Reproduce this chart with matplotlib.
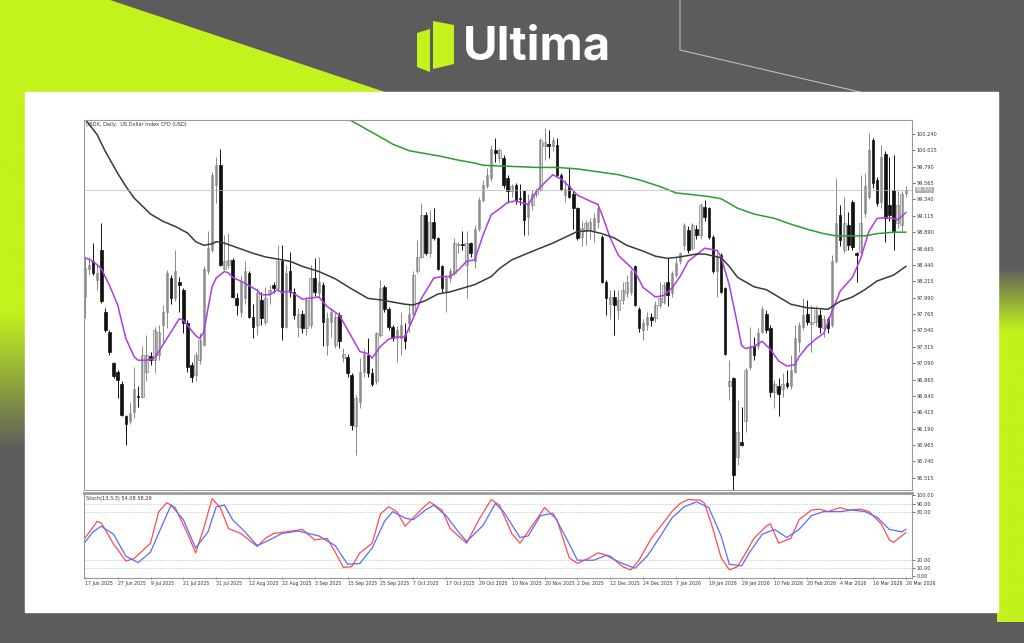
import numpy as np
import matplotlib.pyplot as plt
from matplotlib.patches import Rectangle, Polygon
from matplotlib.colors import LinearSegmentedColormap
import matplotlib.transforms as mtransforms

plt.rcParams['font.family'] = ['DejaVu Sans']

W, H = 1024, 643

# ---------------- data ----------------
dates = ["17 Jun 2025", "27 Jun 2025", "9 Jul 2025", "21 Jul 2025", "31 Jul 2025",
         "12 Aug 2025", "22 Aug 2025", "3 Sep 2025", "15 Sep 2025", "25 Sep 2025",
         "7 Oct 2025", "17 Oct 2025", "29 Oct 2025", "10 Nov 2025", "20 Nov 2025",
         "2 Dec 2025", "12 Dec 2025", "24 Dec 2025", "7 Jan 2026", "19 Jan 2026",
         "29 Jan 2026", "10 Feb 2026", "20 Feb 2026", "4 Mar 2026", "16 Mar 2026",
         "26 Mar 2026"]

opens = [98.00, 98.38, 98.49, 98.23, 98.65, 97.80, 97.52, 97.09, 96.97, 96.81,
         96.36, 96.29, 96.42, 96.64, 96.63, 96.97, 97.19, 97.13, 97.20, 97.61,
         97.80, 98.26, 97.98, 98.20, 98.10, 97.64, 97.06, 96.93, 97.13, 97.34,
         98.35, 98.65, 99.54, 99.81, 98.39, 98.44, 98.51, 97.98, 97.80, 97.98,
         98.33, 97.73, 97.62, 97.96, 97.66, 98.05, 98.17, 98.12, 98.49, 97.59,
         98.35, 98.07, 97.59, 97.77, 97.57, 97.62, 98.26, 98.05, 98.16, 97.34,
         97.66, 97.34, 97.75, 97.16, 97.18, 96.93, 96.22, 96.56, 96.97, 97.20,
         96.95, 96.84, 97.48, 98.14, 97.84, 97.59, 97.43, 97.43, 97.48, 97.64,
         97.77, 98.35, 98.55, 99.13, 98.60, 99.03, 98.81, 98.42, 98.07, 98.26,
         98.33, 98.71, 98.72, 98.44, 98.74, 98.49, 98.94, 99.33, 99.52, 99.63,
         100.02, 99.91, 99.91, 99.63, 99.45, 99.54, 99.36, 99.45, 99.10, 99.26,
         99.42, 99.47, 100.07, 100.10, 100.07, 100.09, 99.68, 99.40, 99.52, 99.42,
         99.22, 98.83, 98.90, 98.92, 98.92, 99.03, 98.83, 98.21, 97.90, 98.00,
         97.82, 97.96, 98.05, 98.07, 98.42, 97.84, 97.55, 97.62, 97.73, 97.71,
         97.89, 97.93, 98.21, 98.05, 98.30, 98.49, 98.71, 98.92, 98.67, 98.94,
         98.85, 99.24, 99.22, 98.83, 98.35, 98.58, 98.12, 96.77, 96.88, 95.80,
         96.01, 96.29, 97.04, 97.32, 97.32, 97.52, 97.77, 97.57, 96.70, 96.77,
         96.74, 96.82, 96.77, 96.97, 97.38, 97.59, 97.77, 97.63, 97.66, 97.75,
         97.57, 97.70, 97.61, 98.49, 99.13, 98.65, 98.99, 99.31, 98.60, 98.62,
         99.15, 99.38, 100.16, 99.61, 99.31, 99.97, 99.26, 99.47, 99.01, 98.99,
         99.43]
highs = [98.55, 98.55, 98.74, 98.44, 99.01, 97.85, 97.55, 97.11, 97.00, 96.84,
         96.38, 96.56, 97.04, 96.77, 97.32, 97.48, 97.25, 97.59, 97.61, 97.89,
         98.37, 98.30, 98.64, 98.28, 98.12, 97.68, 97.10, 97.25, 97.50, 98.42,
         98.90, 99.72, 99.93, 100.04, 98.85, 98.88, 98.53, 98.05, 98.30, 98.49,
         98.35, 97.91, 98.12, 98.07, 98.14, 98.17, 98.21, 98.71, 98.71, 98.44,
         98.62, 98.12, 97.85, 97.82, 98.00, 98.44, 98.53, 98.55, 98.20, 97.80,
         97.85, 97.78, 97.80, 97.30, 97.22, 96.95, 96.65, 97.16, 97.29, 97.43,
         97.02, 97.52, 98.23, 98.16, 97.86, 97.61, 97.60, 97.80, 97.64, 97.91,
         98.35, 98.78, 99.29, 99.17, 99.20, 99.22, 98.83, 98.44, 98.30, 98.40,
         98.81, 98.76, 98.90, 98.90, 98.76, 98.99, 99.38, 99.61, 99.77, 100.09,
         100.18, 100.05, 99.95, 99.68, 99.55, 99.56, 99.55, 99.47, 99.42, 99.47,
         99.50, 100.18, 100.32, 100.29, 100.20, 100.18, 99.70, 99.61, 99.77, 99.45,
         99.24, 99.05, 99.06, 99.08, 99.15, 99.29, 98.85, 98.23, 98.10, 98.09,
         98.10, 98.21, 98.30, 98.39, 98.44, 97.86, 97.70, 97.80, 97.78, 97.94,
         98.21, 98.21, 98.53, 98.35, 98.53, 98.62, 99.01, 98.97, 99.01, 98.99,
         99.29, 99.33, 99.24, 98.85, 98.60, 98.60, 98.14, 97.13, 96.90, 96.58,
         96.49, 97.02, 97.59, 97.45, 97.57, 97.87, 97.82, 97.61, 96.86, 96.88,
         96.95, 97.00, 97.20, 97.61, 97.66, 97.98, 97.96, 97.89, 97.87, 97.84,
         97.75, 97.73, 98.58, 99.63, 99.26, 99.38, 99.17, 99.33, 98.62, 99.68,
         99.70, 100.25, 100.18, 99.65, 100.09, 100.00, 99.93, 99.95, 99.45, 99.45,
         99.52]
lows = [97.71, 98.30, 98.30, 98.10, 97.92, 97.52, 97.20, 96.88, 96.61, 96.36,
        95.97, 96.26, 96.33, 96.49, 96.61, 96.84, 97.07, 96.95, 97.13, 97.36,
        97.57, 97.90, 97.94, 97.80, 97.50, 96.97, 96.83, 96.84, 97.08, 97.32,
        98.32, 98.62, 99.29, 98.42, 98.37, 98.40, 97.98, 97.75, 97.73, 97.90,
        97.71, 97.43, 97.48, 97.62, 97.62, 97.91, 98.05, 98.08, 97.41, 97.57,
        98.00, 97.70, 97.45, 97.50, 97.48, 97.57, 98.02, 98.00, 97.32, 97.20,
        97.45, 97.30, 97.30, 97.10, 96.90, 96.17, 95.83, 96.47, 96.90, 96.90,
        96.78, 96.81, 97.45, 97.80, 97.55, 97.40, 97.11, 97.20, 97.29, 97.52,
        97.75, 98.33, 98.53, 98.58, 98.55, 98.78, 98.37, 98.07, 97.80, 98.20,
        98.30, 98.60, 98.65, 97.98, 98.55, 98.40, 98.90, 99.30, 99.50, 99.60,
        99.85, 99.85, 99.50, 99.29, 99.38, 99.28, 99.27, 98.85, 98.85, 99.20,
        99.38, 99.45, 99.88, 99.91, 100.00, 99.65, 99.47, 99.31, 99.36, 98.94,
        98.78, 98.70, 98.72, 98.80, 98.76, 98.95, 98.19, 97.75, 97.70, 97.48,
        97.70, 97.90, 98.00, 98.03, 97.87, 97.52, 97.41, 97.55, 97.60, 97.65,
        97.85, 97.90, 97.87, 98.00, 98.28, 98.45, 98.65, 98.60, 98.64, 98.80,
        98.80, 99.05, 98.80, 98.33, 98.00, 98.05, 97.20, 96.58, 95.35, 95.69,
        95.95, 96.15, 97.00, 97.13, 97.28, 97.50, 97.50, 96.63, 96.47, 96.36,
        96.63, 96.75, 96.73, 96.95, 97.25, 97.55, 97.62, 97.25, 97.60, 97.50,
        97.45, 97.50, 97.59, 98.46, 98.70, 98.60, 98.65, 98.65, 98.20, 98.55,
        99.10, 99.35, 99.50, 99.25, 99.22, 98.76, 99.05, 98.65, 98.95, 98.90,
        99.38]
closes = [98.40, 98.44, 98.33, 98.33, 97.94, 97.55, 97.25, 96.91, 96.86, 96.38,
          96.26, 96.40, 96.74, 96.62, 97.20, 97.20, 97.13, 97.55, 97.52, 97.80,
          98.33, 97.98, 98.35, 98.17, 97.64, 97.04, 96.90, 97.20, 97.41, 98.39,
          98.67, 99.68, 99.81, 98.44, 98.49, 98.51, 98.00, 97.89, 98.21, 98.35,
          97.73, 97.59, 98.05, 97.71, 97.98, 98.10, 98.12, 98.49, 97.59, 98.33,
          98.07, 97.75, 97.77, 97.57, 97.96, 98.26, 98.07, 98.21, 97.66, 97.71,
          97.80, 97.73, 97.39, 97.21, 96.95, 96.24, 96.61, 96.97, 97.22, 96.95,
          96.81, 97.50, 98.12, 97.84, 97.59, 97.43, 97.55, 97.62, 97.39, 97.77,
          98.30, 98.55, 99.13, 98.60, 99.03, 98.81, 98.39, 98.12, 98.26, 98.35,
          98.74, 98.72, 98.71, 98.74, 98.60, 98.94, 99.33, 99.54, 99.68, 100.04,
          99.98, 100.02, 99.54, 99.45, 99.52, 99.33, 99.35, 99.06, 99.29, 99.42,
          99.45, 100.16, 100.13, 100.08, 100.16, 99.68, 99.49, 99.49, 99.38, 99.22,
          98.81, 98.95, 99.01, 99.03, 99.08, 99.22, 98.21, 97.98, 98.00, 97.89,
          97.96, 98.10, 98.20, 98.35, 97.89, 97.57, 97.64, 97.73, 97.68, 97.89,
          97.98, 98.16, 98.03, 98.33, 98.46, 98.60, 98.99, 98.65, 98.99, 98.85,
          99.26, 99.10, 98.83, 98.35, 98.55, 98.07, 97.22, 96.84, 95.55, 96.15,
          95.97, 96.99, 97.32, 97.20, 97.50, 97.84, 97.55, 96.70, 96.81, 96.67,
          96.81, 96.78, 97.00, 97.43, 97.61, 97.75, 97.66, 97.66, 97.82, 97.59,
          97.70, 97.57, 98.49, 99.01, 98.78, 99.01, 98.71, 98.69, 98.57, 99.01,
          99.52, 100.02, 99.56, 99.29, 99.93, 99.08, 99.12, 98.90, 99.26, 99.42,
          99.47]

# moving averages, read at a number of bars each
fast_ma_bar = [0, 2, 4, 6, 8, 9, 10, 12, 13, 15, 17, 19, 21, 23, 24, 25, 27, 28, 29,
               30, 31, 32, 34, 35, 36, 39, 42, 43, 45, 47, 48, 50, 53, 57, 59, 62, 64,
               67, 69, 70, 72, 74, 76, 78, 80, 82, 85, 87, 89, 91, 93, 95, 97, 99, 101,
               103, 105, 108, 110, 112, 114, 116, 118, 120, 123, 125, 126, 128, 130,
               133, 134, 136, 139, 141, 143, 145, 147, 149, 151, 154, 155, 157, 159,
               160, 161, 163, 165, 167, 169, 171, 173, 174, 176, 178, 180, 182, 184,
               187, 189, 191, 193, 195, 197, 198, 200]
fast_ma = [98.54, 98.49, 98.39, 98.16, 97.89, 97.66, 97.43, 97.18, 97.13, 97.13, 97.16,
           97.34, 97.52, 97.70, 97.68, 97.61, 97.47, 97.43, 97.52, 97.84, 98.14, 98.26,
           98.35, 98.33, 98.27, 98.19, 98.09, 98.03, 98.03, 98.10, 98.06, 98.08, 97.97,
           98.00, 97.87, 97.75, 97.55, 97.25, 97.22, 97.16, 97.32, 97.42, 97.45, 97.45,
           97.71, 97.98, 98.26, 98.28, 98.28, 98.37, 98.49, 98.51, 98.85, 99.13, 99.21,
           99.30, 99.32, 99.27, 99.45, 99.57, 99.68, 99.62, 99.52, 99.40, 99.32, 99.27,
           99.13, 98.81, 98.57, 98.41, 98.35, 98.13, 98.00, 98.02, 98.12, 98.28, 98.49,
           98.58, 98.67, 98.64, 98.55, 98.16, 97.62, 97.33, 97.29, 97.32, 97.39, 97.28,
           97.12, 97.05, 97.07, 97.18, 97.32, 97.42, 97.50, 97.80, 98.08, 98.27, 98.53,
           98.90, 99.08, 99.09, 99.08, 99.06, 99.16]

mid_ma_bar = [0, 3, 5, 8, 10, 12, 16, 19, 22, 25, 27, 29, 31, 32, 34, 38, 41, 44, 47,
              50, 53, 57, 61, 65, 69, 72, 74, 78, 80, 83, 86, 89, 92, 95, 99, 101, 104,
              107, 110, 114, 117, 120, 123, 126, 129, 132, 136, 139, 142, 145, 149, 151,
              155, 157, 159, 163, 166, 169, 172, 176, 179, 181, 184, 187, 190, 193, 197,
              200]
mid_ma = [100.45, 100.23, 100.00, 99.70, 99.52, 99.36, 99.14, 99.04, 98.97, 98.88,
          98.76, 98.71, 98.73, 98.76, 98.74, 98.66, 98.60, 98.55, 98.52, 98.49, 98.42,
          98.35, 98.25, 98.11, 97.98, 97.96, 97.94, 97.90, 97.89, 97.95, 98.04, 98.07,
          98.12, 98.17, 98.28, 98.39, 98.51, 98.58, 98.65, 98.74, 98.82, 98.90, 98.91,
          98.87, 98.81, 98.71, 98.63, 98.56, 98.53, 98.55, 98.59, 98.59, 98.54, 98.42,
          98.27, 98.14, 98.10, 98.00, 97.90, 97.85, 97.84, 97.83, 97.94, 98.00, 98.10,
          98.22, 98.30, 98.42]

slow_ma_bar = [64, 71, 75, 79, 83, 87, 91, 95, 97, 101, 106, 110, 115, 120, 125, 130,
               135, 140, 144, 149, 152, 155, 159, 163, 168, 172, 176, 180, 183, 187, 190,
               193, 197, 200]
slow_ma = [100.45, 100.23, 100.10, 100.01, 99.97, 99.93, 99.88, 99.84, 99.81, 99.80,
           99.79, 99.78, 99.78, 99.76, 99.72, 99.68, 99.61, 99.52, 99.43, 99.40, 99.38,
           99.35, 99.22, 99.14, 99.08, 99.00, 98.93, 98.87, 98.84, 98.84, 98.84, 98.87,
           98.89, 98.89]

# stochastic (13,3,3)
stoch_k_bar = [0, 3, 4, 7, 10, 12, 16, 18, 20, 22, 25, 27, 29, 31, 33, 35, 38, 42, 44,
               46, 49, 53, 56, 59, 61, 63, 65, 67, 70, 72, 74, 76, 78, 82, 84, 87, 89,
               93, 96, 99, 101, 104, 106, 110, 112, 115, 118, 120, 123, 125, 128, 131,
               133, 135, 138, 140, 143, 145, 147, 150, 151, 153, 155, 157, 159, 161,
               163, 166, 167, 169, 172, 174, 177, 179, 181, 184, 186, 189, 191, 194,
               196, 197, 200]
stoch_k = [47, 68, 66, 40, 19, 22, 41, 80, 91, 85, 53, 29, 60, 96, 85, 59, 53, 37, 47,
           53, 55, 58, 45, 47, 30, 11, 12, 29, 41, 77, 86, 80, 62, 83, 92, 82, 59, 41, 70,
           95, 88, 53, 41, 70, 85, 70, 23, 16, 23, 29, 25, 12, 8, 20, 47, 60, 80, 90, 95,
           94, 90, 59, 23, 8, 12, 29, 47, 62, 65, 41, 47, 70, 82, 83, 80, 85, 82, 83, 80,
           65, 45, 42, 54.08]
stoch_d_bar = [0, 2, 4, 7, 10, 13, 16, 19, 21, 24, 27, 30, 32, 34, 36, 39, 42, 45, 48,
               52, 57, 61, 64, 67, 70, 73, 75, 78, 80, 83, 85, 88, 91, 93, 97, 100, 102,
               106, 108, 111, 114, 117, 120, 124, 127, 130, 134, 137, 140, 143, 146, 149,
               152, 155, 157, 160, 162, 165, 168, 171, 174, 177, 180, 184, 187, 190, 193,
               196, 199, 200]
stoch_d = [42, 55, 62, 52, 25, 17, 30, 65, 88, 70, 35, 55, 86, 88, 70, 55, 38, 45, 53,
           56, 50, 38, 15, 16, 35, 68, 80, 72, 70, 82, 88, 75, 55, 43, 63, 90, 80, 48, 50,
           75, 78, 50, 20, 20, 26, 18, 10, 25, 48, 72, 86, 92, 85, 50, 15, 13, 30, 52, 58,
           48, 58, 75, 80, 80, 82, 80, 73, 58, 55, 58.29]

price_ticks = [95.515 + 0.225 * k for k in range(22)]
last_price = 99.47

# ---------------- page background ----------------
fig = plt.figure(figsize=(W / 100, H / 100), dpi=100)
fig.patch.set_facecolor('#5c5c5c')
bg = fig.add_axes([0, 0, 1, 1])
bg.set_xlim(0, W)
bg.set_ylim(H, 0)
bg.axis('off')

lime = '#c3f21c'
grey = '#5c5c5c'
bg.add_patch(Polygon([(0, 0), (110, 0), (385, 92), (0, 92)], closed=True,
                     color=lime, lw=0))
grad = np.linspace(0, 1, 256).reshape(-1, 1)
fade_l = LinearSegmentedColormap.from_list('fade_l', [(0, lime), (0.4, lime),
                                                      (0.65, grey), (1, grey)])
bg.imshow(grad, cmap=fade_l, extent=(0, 26, 643, 92), aspect='auto', zorder=1)
fade_r = LinearSegmentedColormap.from_list('fade_r', [(0, grey), (0.33, grey),
                                                      (0.45, lime), (1, lime)])
bg.imshow(grad, cmap=fade_r, extent=(997, W, 622, 92), aspect='auto', zorder=1)
bg.plot([680, 680, 860], [0, 50, 92], color='#bdbdbd', lw=0.8)

bg.add_patch(Rectangle((25, 92), 973, 520, color='white', zorder=2))

# logo
bg.add_patch(Polygon([(417, 33), (430, 29), (430, 72), (417, 67)], color=lime, lw=0))
bg.add_patch(Polygon([(433, 21), (454, 25), (454, 64), (433, 69)], color=lime, lw=0))
bg.text(463, 47, 'Ultima', color='white', fontsize=34, fontweight='bold',
        family=['Inter', 'DejaVu Sans'], va='center', ha='left')

# ---------------- price panel ----------------
def box(x0, y0, x1, y1):
    return [x0 / W, 1 - y1 / H, (x1 - x0) / W, (y1 - y0) / H]

ax = fig.add_axes(box(84, 120, 912, 490))
ax.set_zorder(3)
n = len(closes)
idx = np.arange(n)
o = np.array(opens); c = np.array(closes)
hi = np.array(highs); lo = np.array(lows)
up = c >= o

ax.vlines(idx[up], lo[up], hi[up], color='#8a8a8a', lw=0.7)
ax.vlines(idx[~up], lo[~up], hi[~up], color='#111111', lw=0.7)
body = np.maximum(np.abs(c - o), 0.012)
ax.bar(idx[up], body[up], bottom=np.minimum(o, c)[up], width=0.62,
       color='#dedede', edgecolor='#8a8a8a', lw=0.5)
ax.bar(idx[~up], body[~up], bottom=np.minimum(o, c)[~up], width=0.62,
       color='#111111', edgecolor='#111111', lw=0.5)

ax.plot(fast_ma_bar, fast_ma, color='#a93ee8', lw=1.1)
ax.plot(mid_ma_bar, mid_ma, color='#3a3a3a', lw=1.1)
ax.plot(slow_ma_bar, slow_ma, color='#2f9b2f', lw=1.1)
ax.axhline(last_price, color='#b8b8b8', lw=0.5)

ax.set_xlim(-0.2, 201.5)
ax.set_ylim(95.347, 100.432)
ax.yaxis.tick_right()
ax.set_yticks(price_ticks)
ax.set_yticklabels([f'{v:.3f}' for v in price_ticks])
ax.tick_params(axis='y', labelsize=3.6, length=2, width=0.5, pad=1.5,
               colors='#333333')
ax.set_xticks([])
for s in ax.spines.values():
    s.set_color('#9a9a9a')
    s.set_linewidth(0.8)
tr = mtransforms.blended_transform_factory(ax.transAxes, ax.transData)
ax.text(1.004, last_price, '99.470', transform=tr, fontsize=3.6, color='white',
        va='center', ha='left',
        bbox=dict(boxstyle='square,pad=0.15', fc='#b0b0b0', ec='none'))
ax.text(0.002, 0.995, 'USDX, Daily:  US Dollar Index CFD (USD)', transform=ax.transAxes,
        fontsize=3.6, color='#333333', va='top', ha='left')

# ---------------- stochastic panel ----------------
ax2 = fig.add_axes(box(84, 493, 912, 578))
ax2.set_zorder(3)
for lvl in [10, 20, 80, 90]:
    ax2.axhline(lvl, color='#bbbbbb', lw=0.5, ls=(0, (2, 2)))
ax2.plot(stoch_k_bar, stoch_k, color='#ff4d4d', lw=0.9)
ax2.plot(stoch_d_bar, stoch_d, color='#5b6cff', lw=0.9)
ax2.set_xlim(-0.2, 201.5)
ax2.set_ylim(-2, 103)
ax2.yaxis.tick_right()
ax2.set_yticks([0, 10, 20, 80, 90, 100])
ax2.set_yticklabels(['0.00', '10.00', '20.00', '80.00', '90.00', '100.00'])
ax2.tick_params(axis='y', labelsize=3.6, length=2, width=0.5, pad=1.5,
                colors='#333333')
ax2.set_xticks(np.arange(0, 201, 8))
ax2.set_xticklabels(dates)
ax2.tick_params(axis='x', labelsize=3.3, length=2, width=0.5, pad=1.5,
                colors='#333333', direction='inout')
for lbl in ax2.get_xticklabels():
    lbl.set_ha('left')
for s in ax2.spines.values():
    s.set_color('#9a9a9a')
    s.set_linewidth(0.8)
ax2.spines['top'].set_linewidth(2.0)
ax2.text(0.002, 0.97, 'Stoch(13,3,3) 54.08 58.29', transform=ax2.transAxes,
         fontsize=3.6, color='#333333', va='top', ha='left')

fig.savefig('out.png', dpi=100, facecolor=fig.get_facecolor())
